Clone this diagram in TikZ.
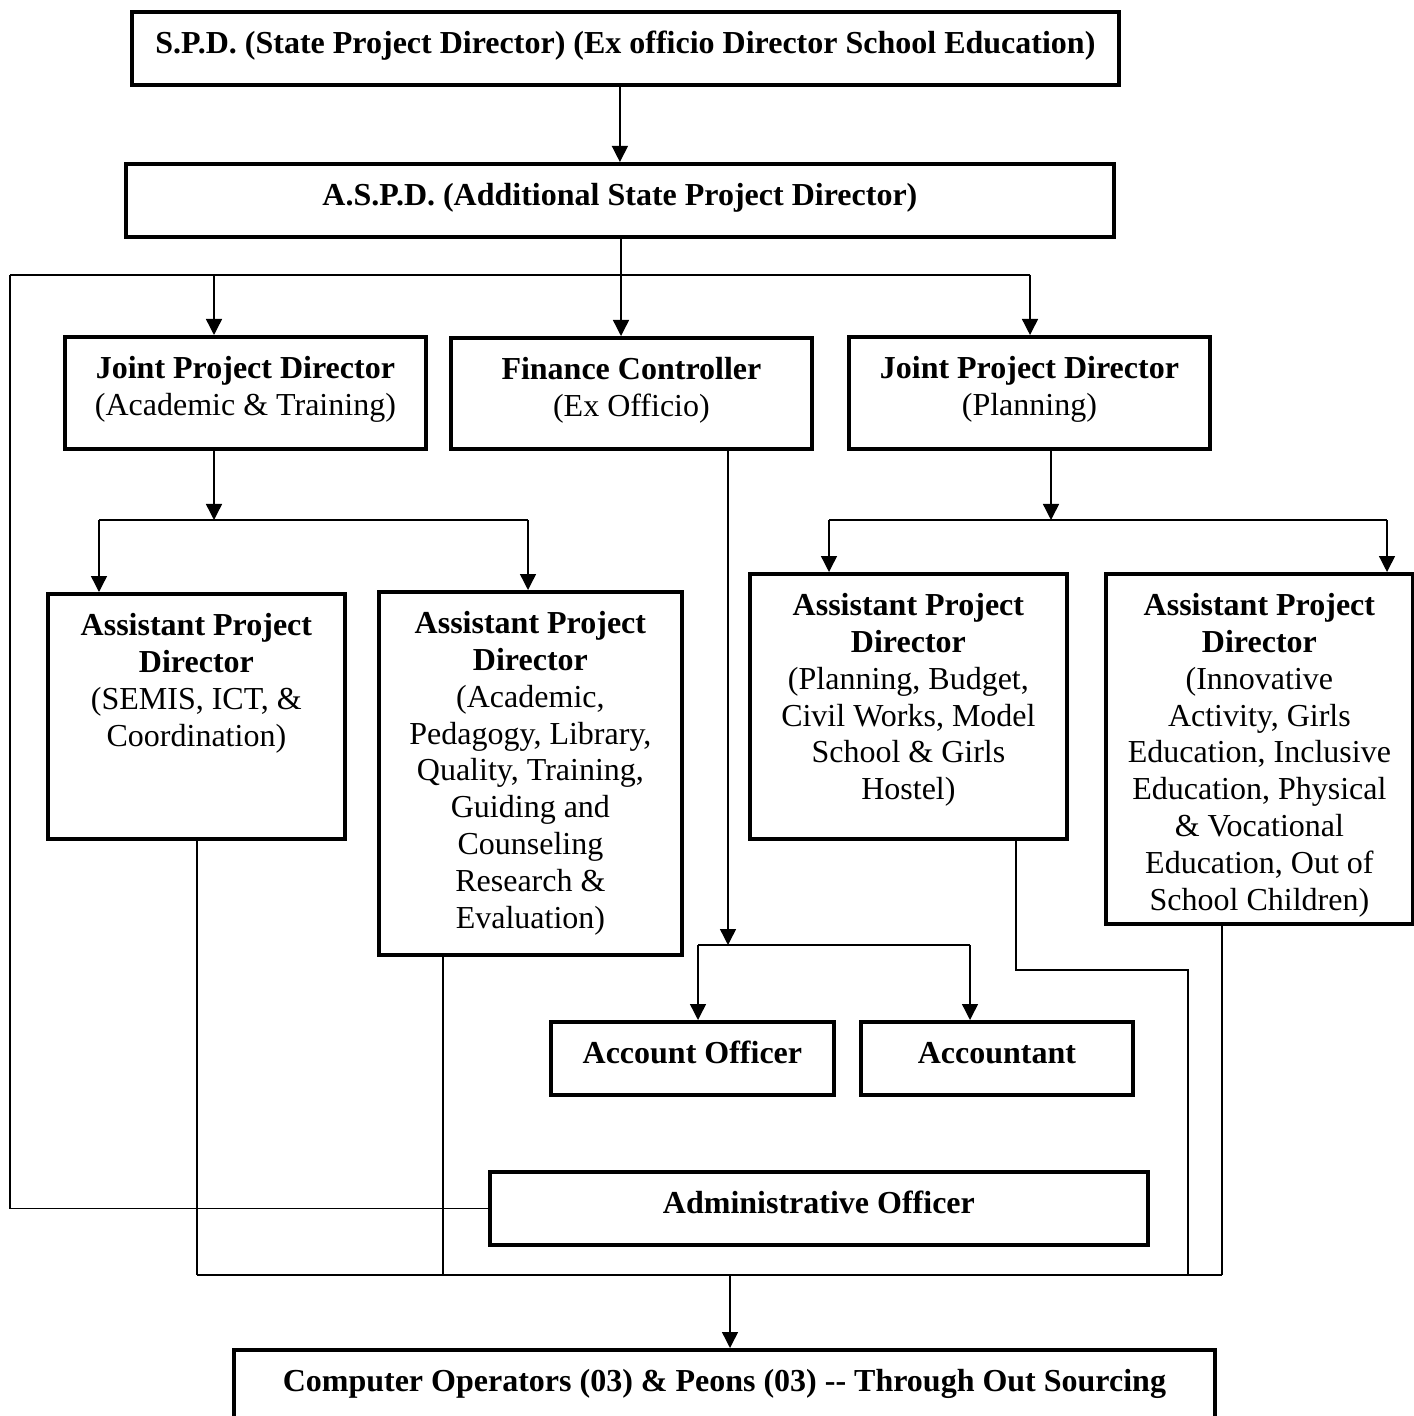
\documentclass[tikz,border=0pt]{standalone}
\usepackage{fontspec}
\setmainfont{Liberation Serif}
\usetikzlibrary{arrows.meta}
\tikzset{
  orgbox/.style={draw, line width=1.9pt, inner sep=0pt, anchor=north west},
  link/.style={line width=0.7pt},
  fwd/.style={link, -{Triangle[length=8pt,width=8pt]}},
}
% box text: width, height, lines (top aligned)
\newcommand{\boxtext}[3]{\parbox[c][#2][t]{#1}{\centering\vspace*{8pt}\strut#3}}

\begin{document}
\begin{tikzpicture}[x=0.5pt, y=-0.5pt, font=\fontsize{16}{18.4}\selectfont]
  \useasboundingbox (0,0) rectangle (1413,1416);

  % top levels
  \node[orgbox] (spd) at (130,10) {\boxtext{493.5pt}{36.5pt}{\textbf{S.P.D. (State Project Director) (Ex officio Director School Education)}}};
  \node[orgbox] (aspd) at (124,162) {\boxtext{494pt}{36.5pt}{\textbf{A.S.P.D. (Additional State Project Director)}}};

  \node[orgbox] (jpdA) at (63,335) {\boxtext{180.5pt}{56pt}{\textbf{Joint Project Director}\\(Academic \& Training)}};
  \node[orgbox] (fc) at (449,336) {\boxtext{180.5pt}{55.5pt}{\textbf{Finance Controller}\\(Ex Officio)}};
  \node[orgbox] (jpdB) at (847,335) {\boxtext{180.5pt}{56pt}{\textbf{Joint Project Director}\\(Planning)}};

  % assistant project directors
  \node[orgbox] (apdA) at (46,592) {\boxtext{148.5pt}{122.5pt}{\textbf{Assistant Project}\\\textbf{Director}\\(SEMIS, ICT, \&\\Coordination)}};
  \node[orgbox] (apdB) at (377,590) {\boxtext{151.5pt}{181.5pt}{\textbf{Assistant Project}\\\textbf{Director}\\(Academic,\\Pedagogy, Library,\\Quality, Training,\\Guiding and\\Counseling\\Research \&\\Evaluation)}};
  \node[orgbox] (apdC) at (748,572) {\boxtext{158.5pt}{132.5pt}{\textbf{Assistant Project}\\\textbf{Director}\\(Planning, Budget,\\Civil Works, Model\\School \& Girls\\Hostel)}};
  \node[orgbox] (apdD) at (1104,572) {\boxtext{153.5pt}{175pt}{\textbf{Assistant Project}\\\textbf{Director}\\(Innovative\\Activity, Girls\\Education, Inclusive\\Education, Physical\\\& Vocational\\Education, Out of\\School Children)}};

  % accounts and administration
  \node[orgbox] (ao) at (549,1020) {\boxtext{141.5pt}{36.5pt}{\textbf{Account Officer}}};
  \node[orgbox] (acct) at (859,1020) {\boxtext{136pt}{36.5pt}{\textbf{Accountant}}};
  \node[orgbox] (admin) at (488,1170) {\boxtext{329pt}{36.5pt}{\textbf{Administrative Officer}}};
  \node[orgbox] (ops) at (232,1348) {\boxtext{490.5pt}{38pt}{\textbf{Computer Operators (03) \& Peons (03) -{}- Through Out Sourcing}}};

  % junction points
  \coordinate (busTop) at (10,275);
  \coordinate (dropA) at (214,275);
  \coordinate (hubA) at (621,275);
  \coordinate (dropB) at (1030,275);
  \coordinate (splitA) at (214,520);
  \coordinate (legA) at (99,520);
  \coordinate (legB) at (528,520);
  \coordinate (splitB) at (1051,520);
  \coordinate (legC) at (829,520);
  \coordinate (legD) at (1387,520);
  \coordinate (splitC) at (728,945);
  \coordinate (legE) at (698,945);
  \coordinate (legF) at (970,945);
  \coordinate (tailA) at (197,1275);
  \coordinate (tailB) at (443,1275);
  \coordinate (bendC) at (1016,970);
  \coordinate (tailC) at (1188,1275);
  \coordinate (tailD) at (1222,1275);
  \coordinate (busBot) at (730,1275);

  \draw[fwd] (spd.south -| aspd.north) -- (aspd.north);
  \draw[fwd] (aspd.south -| hubA) -- (fc.north -| hubA);
  \draw[link] (busTop) -- (dropB);
  \draw[fwd] (dropA) -- (dropA |- jpdA.north);
  \draw[fwd] (dropB) -- (dropB |- jpdB.north);
  \draw[link] (busTop) |- (admin.west);

  \draw[fwd] (jpdA.south -| splitA) -- (splitA);
  \draw[link] (legA) -- (legB);
  \draw[fwd] (legA) -- (legA |- apdA.north);
  \draw[fwd] (legB) -- (legB |- apdB.north);

  \draw[fwd] (jpdB.south -| splitB) -- (splitB);
  \draw[link] (legC) -- (legD);
  \draw[fwd] (legC) -- (legC |- apdC.north);
  \draw[fwd] (legD) -- (legD |- apdD.north);

  \draw[fwd] (fc.south -| splitC) -- (splitC);
  \draw[link] (legE) -- (legF);
  \draw[fwd] (legE) -- (legE |- ao.north);
  \draw[fwd] (legF) -- (legF |- acct.north);

  \draw[link] (tailA) -- (tailD);
  \draw[link] (apdA.south -| tailA) -- (tailA);
  \draw[link] (apdB.south -| tailB) -- (tailB);
  \draw[link] (apdC.south -| bendC) -- (bendC) -| (tailC);
  \draw[link] (apdD.south -| tailD) -- (tailD);
  \draw[fwd] (busBot) -- (busBot |- ops.north);
\end{tikzpicture}
\end{document}
